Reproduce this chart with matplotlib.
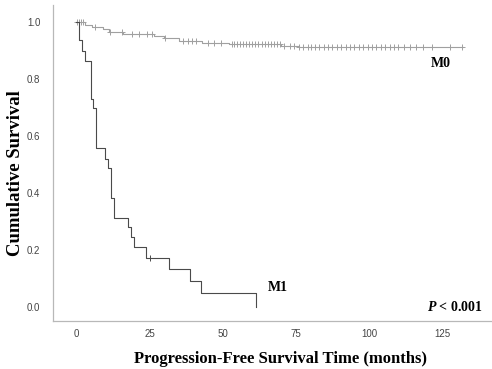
import matplotlib.pyplot as plt
import numpy as np

# M0 group: step times (months) and survival after each step
m0_time = [0, 3.0, 5.5, 9.0, 11.0, 16.0, 26.5, 30.0, 35.0, 43.0, 52.0, 70.0, 76.0, 132.0]
m0_surv = [1.0, 0.992, 0.984, 0.975, 0.965, 0.958, 0.950, 0.943, 0.935, 0.928, 0.924, 0.918, 0.913, 0.913]
m0_censor = [0.2, 0.8, 1.5, 2.2, 6.5, 11.6, 15.6, 19.0, 21.5, 24.0, 25.8, 30.4,
             36.5, 38.0, 39.5, 41.0, 45.0, 47.0, 49.5,
             53.0, 54.0, 55.0, 56.0, 57.0, 58.0, 59.0, 60.0, 61.0, 62.0,
             63.5, 64.5, 65.5, 66.5, 67.5, 68.5, 69.5, 71.0,
             73.0, 74.5, 76.0, 77.5, 79.0, 80.0, 81.5, 83.0, 84.5, 86.0, 87.5,
             89.0, 90.5, 92.0, 93.5, 95.0, 96.5, 98.0, 99.5, 101.0, 102.5,
             104.0, 105.5, 107.0, 108.5, 110.0, 112.0, 114.0, 116.0, 118.5,
             121.5, 127.8, 131.7]

# M1 group
m1_time = [0, 0.8, 1.9, 2.9, 5.0, 5.8, 6.6, 9.7, 10.8, 11.8, 12.8, 17.8, 18.8,
           19.7, 23.7, 31.5, 38.7, 42.7, 61.5]
m1_surv = [1.0, 0.937, 0.898, 0.864, 0.730, 0.698, 0.559, 0.520, 0.488, 0.381,
           0.313, 0.280, 0.247, 0.209, 0.172, 0.133, 0.091, 0.048, 0.0]
m1_censor = [25.3]

xticks = [0, 25, 50, 75, 100, 125]
yticks = [0.0, 0.2, 0.4, 0.6, 0.8, 1.0]

serif = ['Liberation Serif', 'DejaVu Serif']
sans = ['Liberation Sans', 'DejaVu Sans']
plt.rcParams['mathtext.fontset'] = 'custom'
plt.rcParams['mathtext.it'] = 'Liberation Serif:italic:bold'


def surv_at(times, survs, t):
    idx = np.searchsorted(times, t, side='right') - 1
    return np.array(survs)[idx]


fig = plt.figure(figsize=(4.92, 3.69), dpi=100)
ax = fig.add_axes([0.1077, 0.130, 0.8923, 0.856])

c0 = '#a0a0a0'
c1 = '#4a4a4a'
ax.step(m0_time, m0_surv, where='post', color=c0, lw=0.8)
ax.plot(m0_censor, surv_at(m0_time, m0_surv, m0_censor), '+', color=c0,
        ms=5, mew=0.7)
ax.step(m1_time, m1_surv, where='post', color=c1, lw=0.8)
ax.plot(m1_censor, surv_at(m1_time, m1_surv, m1_censor), '+', color=c1,
        ms=5, mew=0.7)

ax.set_xlim(-8, 142)
ax.set_ylim(-0.05, 1.06)
ax.set_xticks(xticks)
ax.set_yticks(yticks)
ax.set_yticklabels([f'{v:.1f}' for v in yticks])
ax.tick_params(length=0, labelsize=7, labelcolor='#444444')
ax.tick_params(axis='y', pad=9)
ax.tick_params(axis='x', pad=6)
for lab in ax.get_xticklabels() + ax.get_yticklabels():
    lab.set_family(sans)

for s in ['top', 'right']:
    ax.spines[s].set_visible(False)
for s in ['left', 'bottom']:
    ax.spines[s].set_color('#b8b8b8')
    ax.spines[s].set_linewidth(0.9)

ax.set_xlabel('Progression-Free Survival Time (months)', family=serif,
              fontweight='bold', fontsize=12)
ax.xaxis.set_label_coords(0.519, -0.095)
ax.set_ylabel('Cumulative Survival', family=serif, fontweight='bold',
              fontsize=13.5)
ax.yaxis.set_label_coords(-0.067, 0.468)

ax.text(121, 0.856, 'M0', family=serif, fontweight='bold', fontsize=10,
        va='center', ha='left')
ax.text(65.5, 0.067, 'M1', family=serif, fontweight='bold', fontsize=10,
        va='center', ha='left')
ax.text(138.7, 0.0, r'$\mathit{P}$ < 0.001', family=serif,
        fontweight='bold', fontsize=10, va='center', ha='right')

fig.savefig('out.png', dpi=100)
